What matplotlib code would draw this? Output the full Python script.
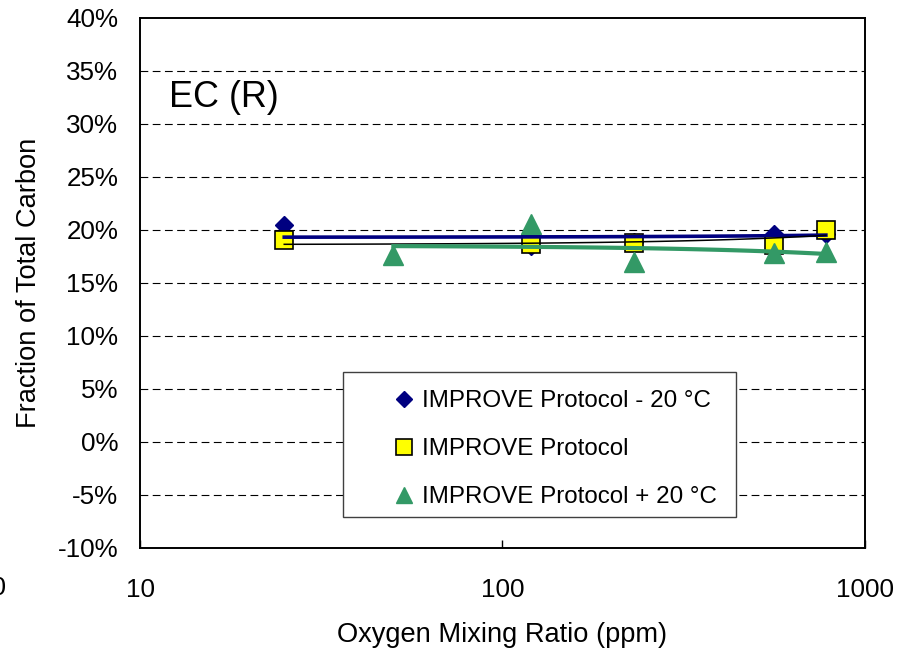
import numpy as np
import matplotlib
matplotlib.use("Agg")
import matplotlib.pyplot as plt
from matplotlib.patches import Rectangle

plt.rcParams["font.family"] = ["Liberation Sans", "DejaVu Sans"]

# data (fraction of total carbon, %)
o2_minus20 = [25, 120, 230, 560, 780]
ec_minus20 = [20.4, 18.4, 18.8, 19.6, 19.6]

o2_std = [25, 120, 230, 560, 780]
ec_std = [19.0, 18.6, 18.7, 18.5, 20.0]

o2_plus20 = [50, 120, 230, 560, 780]
ec_plus20 = [17.55, 20.5, 16.9, 17.8, 17.9]

labels = ["IMPROVE Protocol - 20 °C", "IMPROVE Protocol", "IMPROVE Protocol + 20 °C"]
yticks = list(range(-10, 45, 5))

navy = "#000080"
green = "#339966"

fig = plt.figure(figsize=(9.12, 6.5), dpi=100)
ax = fig.add_axes([140 / 912, 1 - 547.5 / 650, 725 / 912, 530 / 650])

h1, = ax.plot(o2_minus20, ec_minus20, linestyle="none", marker="D", ms=9.5,
              color=navy, mec=navy, zorder=3)
h2, = ax.plot(o2_std, ec_std, linestyle="none", marker="s", ms=13.5,
              mfc="#FFFF00", mec="black", mew=1.2, zorder=4)
h3, = ax.plot(o2_plus20, ec_plus20, linestyle="none", marker="^", ms=14.5,
              color=green, mec=green, zorder=5)


# linear trendlines
def trend(x, y):
    k, b = np.polyfit(x, y, 1)
    xx = np.geomspace(min(x), max(x), 100)
    return xx, k * xx + b


xx, yy = trend(o2_minus20, ec_minus20)
ax.plot(xx, yy, color=navy, lw=2.6, zorder=6)
xx, yy = trend(o2_std, ec_std)
ax.plot(xx, yy, color="black", lw=1.1, zorder=6)
xx, yy = trend(o2_plus20, ec_plus20)
ax.plot(xx, yy, color=green, lw=3.0, zorder=6)

ax.set_xscale("log")
ax.set_xlim(10, 1000)
ax.set_ylim(-10, 40)
ax.set_xticks([10, 100, 1000])
ax.set_xticklabels(["10", "100", "1000"])
ax.xaxis.set_minor_locator(matplotlib.ticker.NullLocator())
ax.set_yticks(yticks)
ax.set_yticklabels([f"{t}%" for t in yticks])
ax.tick_params(axis="x", direction="in", length=6, width=1, pad=22, labelsize=18.7)
ax.tick_params(axis="y", length=0, pad=15.5, labelsize=18.7)

for t in yticks[1:-1]:
    ax.axhline(t, color="black", lw=0.8, linestyle=(0, (7, 4)), zorder=1)

for s in ax.spines.values():
    s.set_linewidth(1.4)

ax.set_xlabel("Oxygen Mixing Ratio (ppm)", fontsize=19.6)
ax.xaxis.set_label_coords(0.5, -0.141)
ax.set_ylabel("Fraction of Total Carbon", fontsize=19.6)
ax.yaxis.set_label_coords(-0.135, 0.5)

ax.text(0.04, 0.832, "EC (R)", transform=ax.transAxes, fontsize=25.8, va="baseline")

# legend box
ax.add_patch(Rectangle((0.2796, 0.0582), 0.5425, 0.272, transform=ax.transAxes,
                       fill=True, facecolor="white", edgecolor="#404040", lw=1, zorder=7))
leg_h = [
    plt.Line2D([], [], linestyle="none", marker="D", ms=8, color=navy),
    plt.Line2D([], [], linestyle="none", marker="s", ms=11, mfc="#FFFF00", mec="black", mew=1.2),
    plt.Line2D([], [], linestyle="none", marker="^", ms=12, color=green),
]
leg = ax.legend(leg_h, labels, loc="center left", bbox_to_anchor=(0.3476, 0.1855),
                frameon=False, fontsize=17.4, borderpad=0, handlelength=1.0,
                handletextpad=0.25, labelspacing=1.08, borderaxespad=0)
leg.set_zorder(8)

# clipped label at the left edge of the original image
fig.text(6 / 912, 1 - 588 / 650, "10", ha="right", va="center", fontsize=18.7)

plt.savefig("out.png", dpi=100)
